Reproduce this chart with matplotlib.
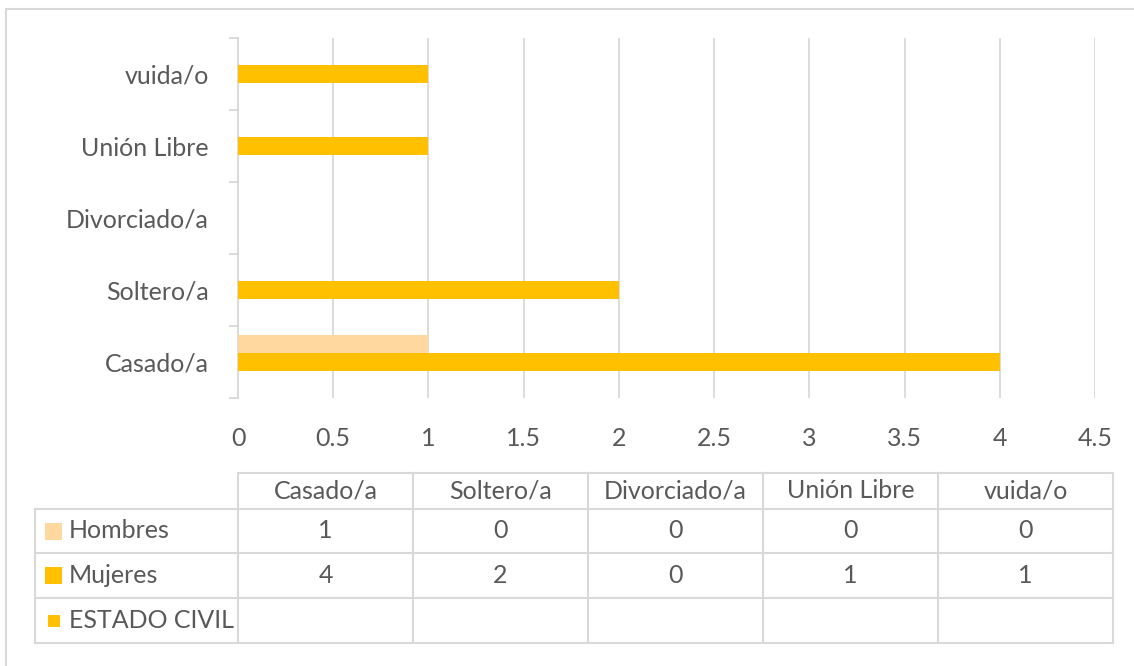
import matplotlib
matplotlib.use("Agg")
import matplotlib.pyplot as plt
from matplotlib.lines import Line2D
from matplotlib.patches import Rectangle

categories = ["Casado/a", "Soltero/a", "Divorciado/a", "Unión Libre", "vuida/o"]
hombres = [1, 0, 0, 0, 0]
mujeres = [4, 2, 0, 1, 1]
estado_civil = [0, 0, 0, 0, 0]
series_names = ["Hombres", "Mujeres", "ESTADO CIVIL"]
xticks = [0, 0.5, 1, 1.5, 2, 2.5, 3, 3.5, 4, 4.5]

C_H = "#FFD8A0"
C_M = "#FFC000"
C_E = "#FFC000"
TXT = "#595959"
GRID = "#D9D9D9"
FONT = "Lato"
FS = 18

W, H = 1134, 666
fig = plt.figure(figsize=(W / 100, H / 100), dpi=100)
plt.rcParams['font.family'] = [FONT, 'DejaVu Sans']

def fx(x):
    return x / W

def fy(y):
    return 1 - y / H

ax = fig.add_axes([fx(238), fy(398), fx(1095) - fx(238), fy(38) - fy(398)])

bh = 0.254
pos = list(range(len(categories)))
ax.barh([p + bh for p in pos], hombres, height=bh, color=C_H, zorder=3)
ax.barh(pos, mujeres, height=bh, color=C_M, zorder=3)
ax.barh([p - bh for p in pos], estado_civil, height=bh, color=C_E, zorder=3)

ax.set_xlim(0, 4.5)
ax.set_ylim(-0.5, len(categories) - 0.5)
ax.set_xticks(xticks)
ax.set_xticklabels([f"{t:g}" for t in xticks])
ax.xaxis.grid(True, color=GRID, linewidth=1.3, zorder=0)
ax.set_axisbelow(True)
ax.tick_params(axis='x', length=0, pad=21, labelsize=FS, labelcolor=TXT)

ax.set_yticks(pos)
ax.set_yticklabels(categories)
ax.set_yticks([p - 0.5 for p in range(len(categories) + 1)], minor=True)
ax.tick_params(axis='y', which='major', length=0, pad=21, labelsize=FS, labelcolor=TXT)
ax.tick_params(axis='y', which='minor', length=6.5, width=1.3, color=GRID, direction='out')

for s in ["top", "right", "bottom"]:
    ax.spines[s].set_visible(False)
ax.spines["left"].set_color(GRID)
ax.spines["left"].set_linewidth(1.3)

# outer chart border
fig.add_artist(Rectangle((fx(6), fy(672)), fx(1140) - fx(6), fy(9) - fy(672),
                         transform=fig.transFigure, fill=False, edgecolor=GRID, linewidth=1.5))

# data table
col_x = [238, 413, 588, 763, 938, 1113]
row_y = [473, 509, 553, 598, 643]
left_x = 35

def hline(y, x0, x1):
    fig.add_artist(Line2D([fx(x0), fx(x1)], [fy(y), fy(y)], transform=fig.transFigure,
                          color=GRID, linewidth=1.5))

def vline(x, y0, y1):
    fig.add_artist(Line2D([fx(x), fx(x)], [fy(y0), fy(y1)], transform=fig.transFigure,
                          color=GRID, linewidth=1.5))

hline(row_y[0], col_x[0], col_x[-1])
for y in row_y[1:]:
    hline(y, left_x, col_x[-1])
vline(left_x, row_y[1], row_y[-1])
for x in col_x:
    vline(x, row_y[0], row_y[-1])

for i, c in enumerate(categories):
    cx = (col_x[i] + col_x[i + 1]) / 2
    cy = (row_y[0] + row_y[1]) / 2
    fig.text(fx(cx), fy(cy), c, ha='center', va='center', fontsize=FS, color=TXT)

rows = [hombres, mujeres, None]
colors = [C_H, C_M, C_E]
sq_sizes = [17, 17, 12]
for r, name in enumerate(series_names):
    cy = (row_y[r + 1] + row_y[r + 2]) / 2
    s = sq_sizes[r]
    sx = 53.5 - s / 2
    fig.add_artist(Rectangle((fx(sx), fy(cy + s / 2)), s / W, s / H,
                             transform=fig.transFigure, color=colors[r], linewidth=0))
    fig.text(fx(69), fy(cy), name, ha='left', va='center', fontsize=FS, color=TXT)
    if rows[r] is not None:
        for i, v in enumerate(rows[r]):
            cx = (col_x[i] + col_x[i + 1]) / 2
            fig.text(fx(cx), fy(cy), str(v), ha='center', va='center', fontsize=FS, color=TXT)

fig.savefig("out.png", dpi=100, facecolor="white")
